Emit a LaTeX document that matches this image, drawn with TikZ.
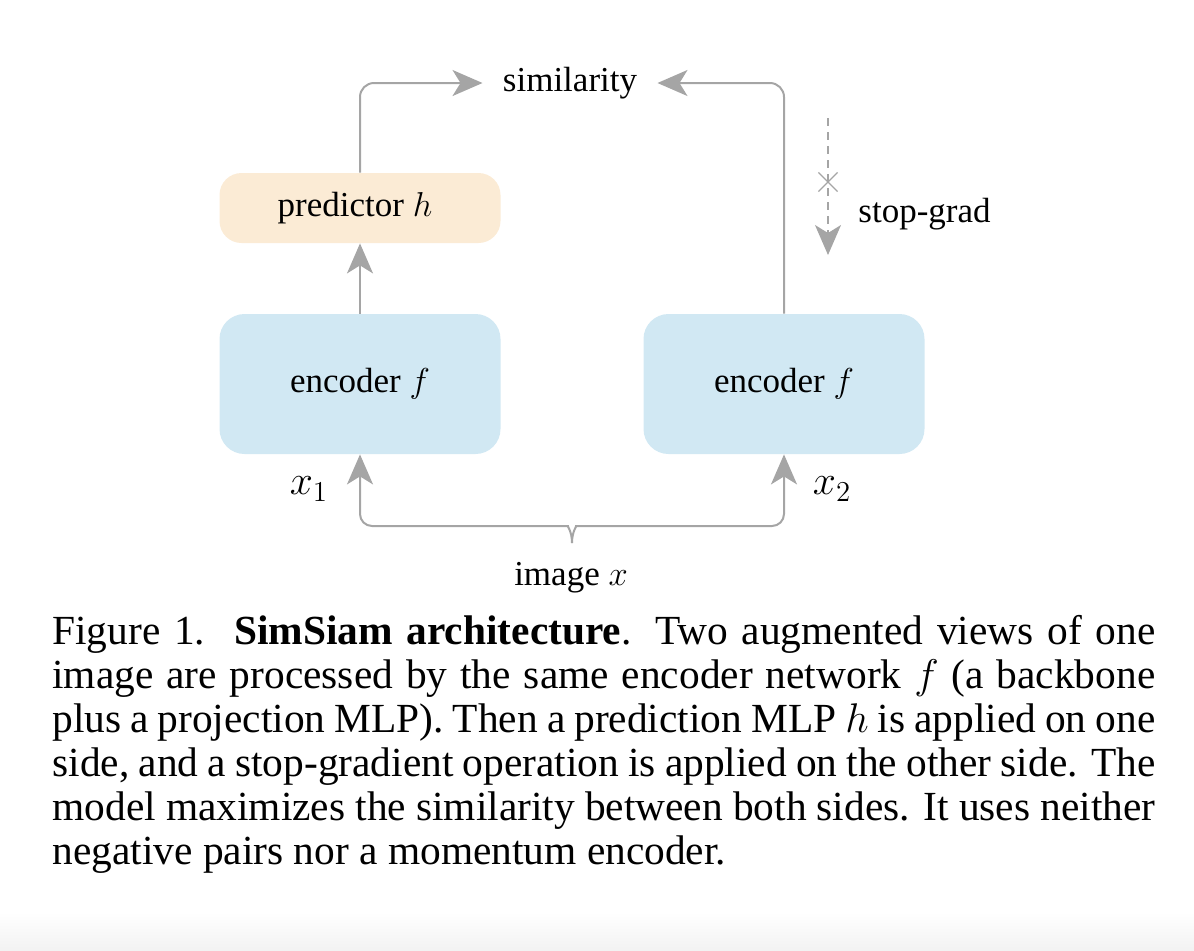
\documentclass[tikz,border=0pt]{standalone}
\usepackage{fontspec}
\setmainfont{Liberation Serif}
\usetikzlibrary{arrows.meta,shapes.misc,calc}
\definecolor{encblue}{RGB}{209,232,243}
\definecolor{predorange}{RGB}{251,235,213}
\definecolor{linegray}{RGB}{165,165,165}
\newcommand\diagfont{\fontsize{17.5pt}{21pt}\selectfont}
\newcommand\varfont{\fontsize{22pt}{24pt}\selectfont}
\newcommand\capfont{\fontsize{20.7pt}{22pt}\selectfont\hyphenpenalty=10000\tolerance=10000}
\begin{document}
\begin{tikzpicture}[x=0.5pt,y=-0.5pt,
  box/.style={draw=none, inner sep=0pt, font=\diagfont},
  encbox/.style={box, fill=encblue, rounded corners=12.5pt, minimum width=140.5pt, minimum height=70pt},
  predbox/.style={box, fill=predorange, rounded corners=11pt, minimum width=140.5pt, minimum height=35pt},
  conn/.style={draw=linegray, line width=1pt, -{Stealth[length=15pt,width=13pt,inset=4pt]}},
  lbl/.style={font=\diagfont, inner sep=0pt},
  varlbl/.style={font=\varfont, inner sep=0pt}
]
\useasboundingbox (0,0) rectangle (1194,950);
\shade[top color=white, bottom color=black!5, draw=none] (0,912) rectangle (1194,950);

% nodes
\node[encbox] (enc1) at (360,384) {encoder $f$};
\node[encbox] (enc2) at (784,384) {encoder $f$};
\node[predbox] (pred) at (360,208) {\hspace{-5pt}predictor $h$};
\node[lbl, inner xsep=10pt] (sim) at (570,83) {similarity};

% connectors
\draw[conn] (enc1.north) -- (pred.south);
\draw[conn, rounded corners=7pt] (pred.north) |- (sim.west);
\draw[conn, rounded corners=7pt] (enc2.north) |- (sim.east);

% stop-grad
\coordinate (sgtop) at (828,118);
\coordinate (sgbot) at (828,255);
\draw[conn, line width=0.7pt, dash pattern=on 4pt off 3pt] (sgtop) -- (sgbot);
\node[draw=linegray, cross out, minimum size=9pt, inner sep=0pt, line width=0.6pt] (sgx) at (828,182) {};
\node[lbl, anchor=west] (sglabel) at (858,214) {stop-grad};

% brace and inputs
\coordinate (cusp) at (572,543);
\coordinate (bl) at (0,526);
\draw[conn, rounded corners=6pt] (cusp) .. controls (572,531) and (567,526) .. (556,526) -- (enc1.south |- bl) -- (enc1.south);
\draw[conn, rounded corners=6pt] (cusp) .. controls (572,531) and (577,526) .. (588,526) -- (enc2.south |- bl) -- (enc2.south);

\node[varlbl] (x1) at (309,489) {$x_1$};
\node[varlbl] (x2) at (832,489) {$x_2$};
\node[lbl] (img) at (571,578) {image $x$};

% caption
\node[anchor=base west, text width=551.5pt, align=justify, inner sep=0pt, font=\capfont] (cap) at (52,644) {Figure 1.\hspace{0.7em}\textbf{SimSiam architecture}. Two augmented views of one\linebreak
image are processed by the same encoder network $f$ (a backbone\linebreak
plus a projection MLP). Then a prediction MLP $h$ is applied on one\linebreak
side, and a stop-gradient operation is applied on the other side. The\linebreak
model maximizes the similarity between both sides. It uses neither\linebreak
negative pairs nor a momentum encoder.};
\end{tikzpicture}
\end{document}
